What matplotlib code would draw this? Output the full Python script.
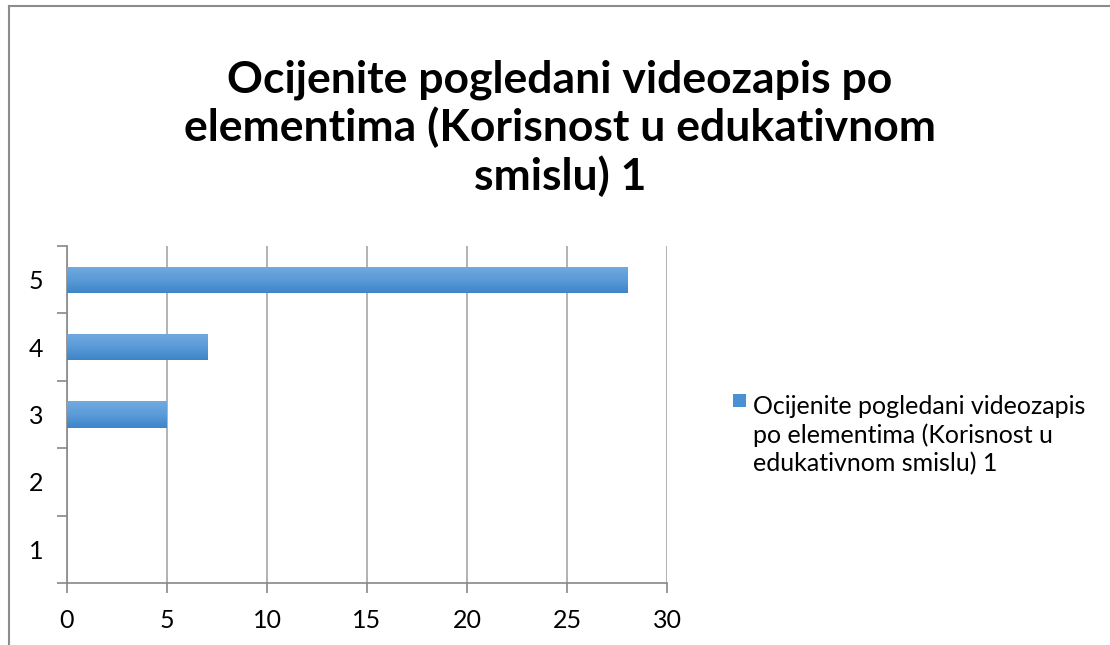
import matplotlib
matplotlib.use("Agg")
import matplotlib.pyplot as plt
import numpy as np
from matplotlib.colors import LinearSegmentedColormap

plt.rcParams['font.family'] = ['Lato', 'DejaVu Sans']

categories = ['1', '2', '3', '4', '5']
values = [0, 0, 5, 7, 28]
x_ticks = [0, 5, 10, 15, 20, 25, 30]
title = "Ocijenite pogledani videozapis po\nelementima (Korisnost u edukativnom\nsmislu) 1"
legend_label = "Ocijenite pogledani videozapis\npo elementima (Korisnost u\nedukativnom smislu) 1"

W, H = 1110, 645
fig = plt.figure(figsize=(W / 100, H / 100), dpi=100)
fig.patch.set_facecolor('white')

# chart border (cropped on right & bottom)
border_col = '#8c8c8c'
fig.add_artist(plt.Line2D([9 / W, 1.0], [1 - 6 / H, 1 - 6 / H], transform=fig.transFigure, color=border_col, lw=1.5))
fig.add_artist(plt.Line2D([9 / W, 9 / W], [0, 1 - 6 / H], transform=fig.transFigure, color=border_col, lw=1.5))

ax = fig.add_axes([67 / W, (H - 583) / H, 600 / W, 337 / H])
y = np.arange(len(categories))
bars = ax.barh(y, values, height=0.39, color='#4a90d4', zorder=3)

cmap = LinearSegmentedColormap.from_list('g', ['#3d85c9', '#5b9bd8', '#72aae0'])
grad = np.linspace(0, 1, 64).reshape(-1, 1)
for b in bars:
    if b.get_width() <= 0:
        continue
    x0, y0 = b.get_x(), b.get_y()
    w, h = b.get_width(), b.get_height()
    im = ax.imshow(grad, extent=[x0, x0 + w, y0, y0 + h], origin='lower', aspect='auto',
                   cmap=cmap, zorder=4, interpolation='bilinear')
    im.set_clip_path(b)
    b.set_alpha(0)

ax.set_xlim(0, 30)
ax.set_ylim(-0.5, len(categories) - 0.5)
ax.set_xticks(x_ticks)
ax.set_xticklabels([str(t) for t in x_ticks], fontsize=18)
ax.set_yticks(y)
ax.set_yticklabels(categories, fontsize=18)
ax.set_yticks(np.arange(-0.5, len(categories)), minor=True)
ax.tick_params(axis='y', which='major', length=0, pad=17)
ax.tick_params(axis='y', which='minor', length=7, color='#888888', width=1.2, direction='out')
ax.tick_params(axis='x', which='major', length=7, color='#888888', width=1.2, direction='out', pad=12)
ax.grid(axis='x', color='#a6a6a6', lw=1.2, zorder=0)
ax.set_axisbelow(True)
for s in ['top', 'right']:
    ax.spines[s].set_visible(False)
for s in ['left', 'bottom']:
    ax.spines[s].set_color('#888888')
    ax.spines[s].set_linewidth(1.2)
ax.set_xlim(0, 30)

fig.text(560 / W, 1 - 128 / H, title, ha='center', va='center', fontsize=32,
         fontweight='bold', linespacing=1.2)

# legend
fig.patches.append(plt.Rectangle((733 / W, 1 - 407 / H), 13 / W, 13 / H, transform=fig.transFigure,
                                 facecolor='#4a90d4', edgecolor='none'))
fig.text(753 / W, 1 - 435 / H, legend_label, ha='left', va='center', fontsize=18, linespacing=1.25)

fig.savefig('out.png', dpi=100, facecolor='white')
